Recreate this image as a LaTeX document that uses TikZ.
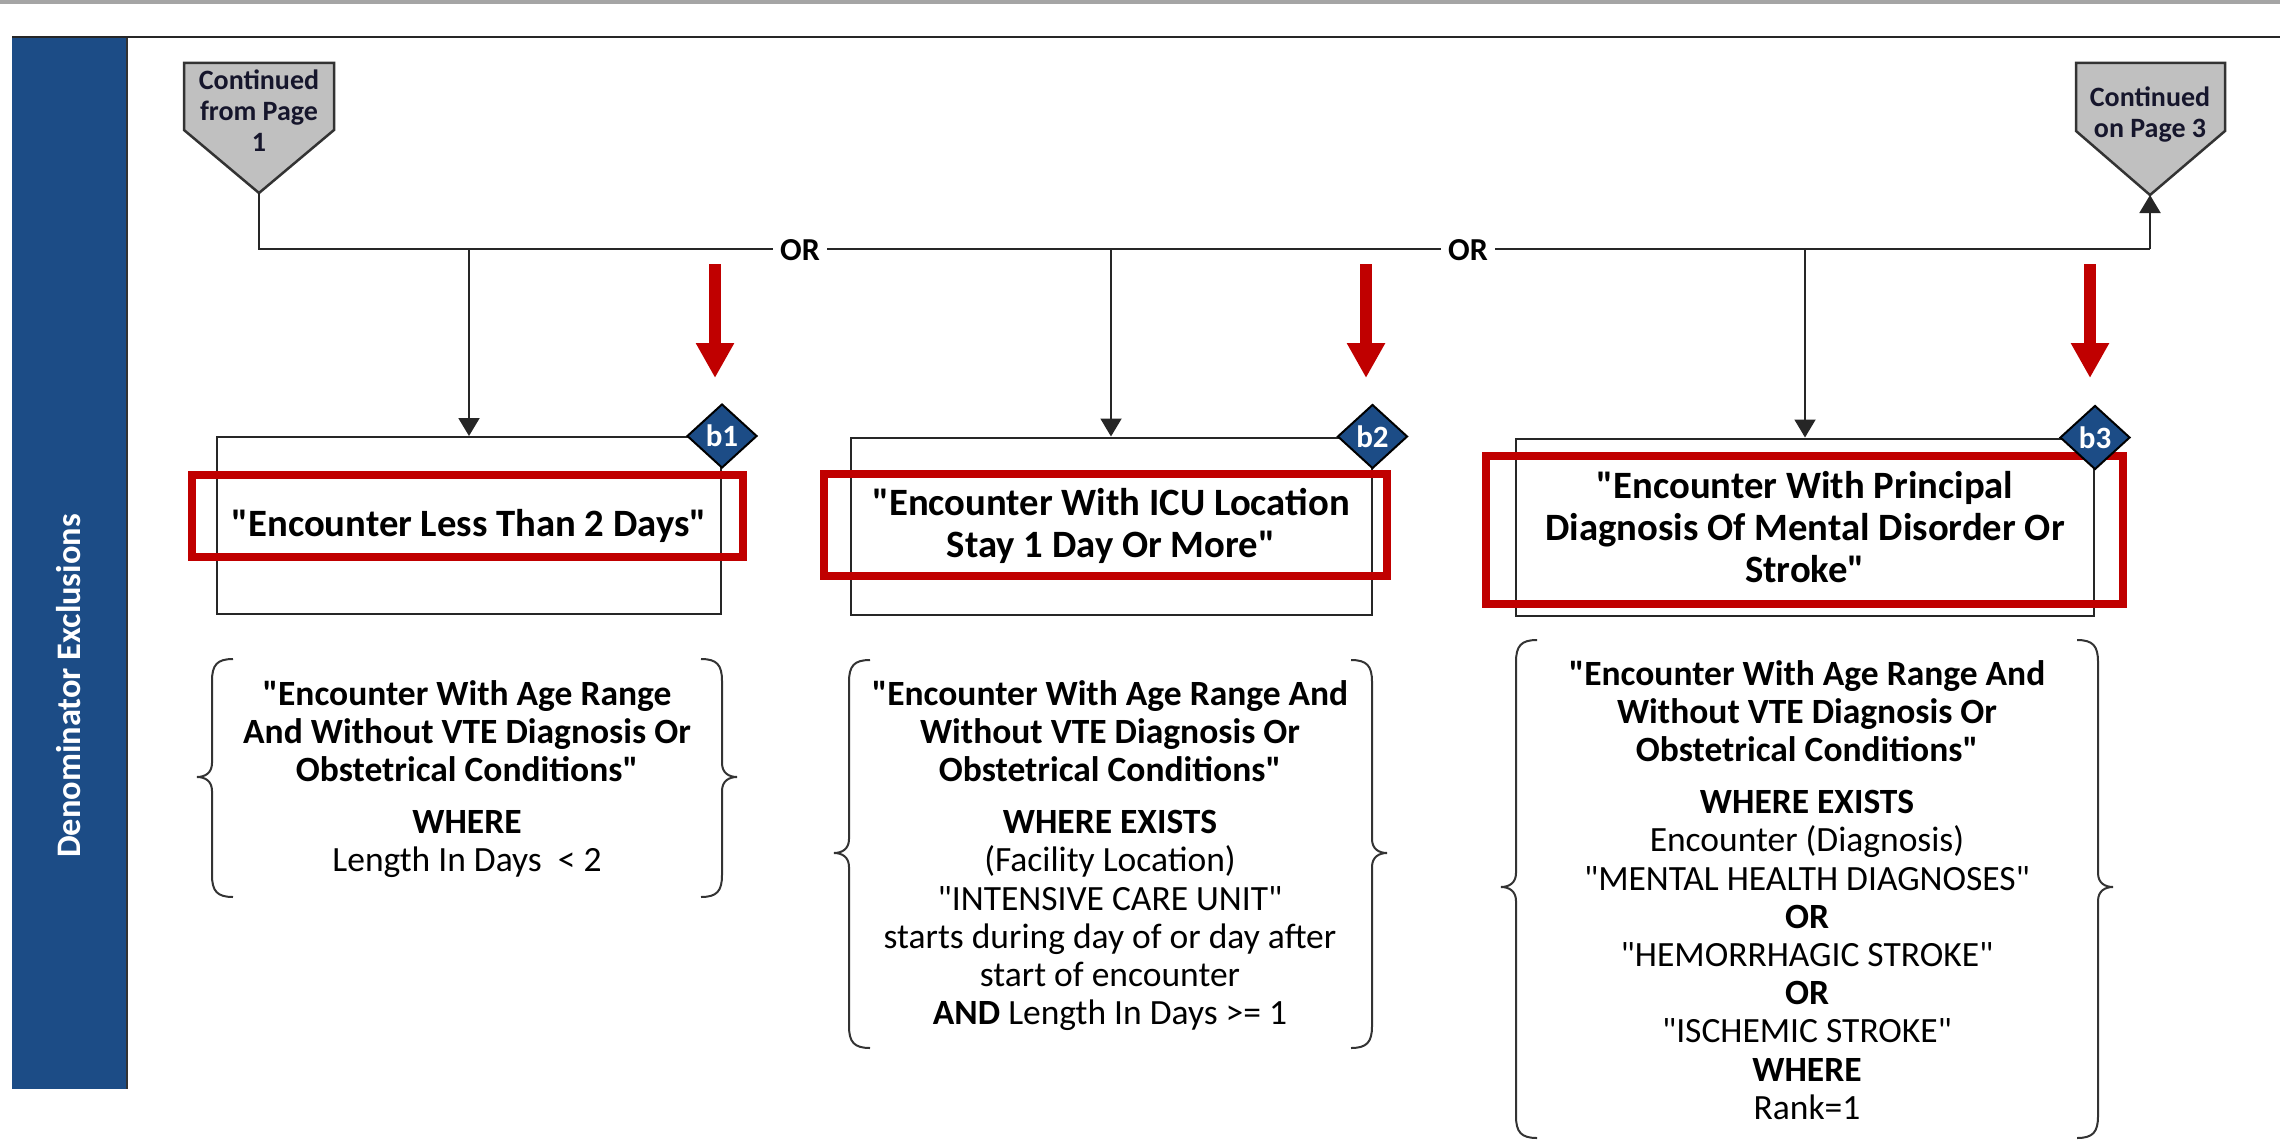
\documentclass[tikz,border=0pt]{standalone}
\usepackage{fontspec}
\setmainfont{Carlito}[Ligatures=TeXOff]
\usetikzlibrary{arrows.meta,shapes.geometric}

\definecolor{bandblue}{RGB}{28,76,134}
\definecolor{hlred}{RGB}{192,0,0}
\definecolor{offpage}{RGB}{192,192,192}
\definecolor{labelink}{RGB}{22,22,44}
\definecolor{rulegray}{RGB}{165,165,165}

% curly brackets: #1 tip x, #2 top y, #3 middle y, #4 bottom y
\newcommand{\OpenCurl}[4]{%
  \draw[curl] ({#1+36},#2) .. controls ({#1+20},#2) and ({#1+15},{#2+6}) .. ({#1+15},{#2+22})
    -- ({#1+15},{#3-14}) .. controls ({#1+15},{#3-4}) and ({#1+8},#3) .. (#1,#3)
    .. controls ({#1+8},#3) and ({#1+15},{#3+4}) .. ({#1+15},{#3+14})
    -- ({#1+15},{#4-22}) .. controls ({#1+15},{#4-6}) and ({#1+20},#4) .. ({#1+36},#4);}
\newcommand{\CloseCurl}[4]{%
  \draw[curl] ({#1-36},#2) .. controls ({#1-20},#2) and ({#1-15},{#2+6}) .. ({#1-15},{#2+22})
    -- ({#1-15},{#3-14}) .. controls ({#1-15},{#3-4}) and ({#1-8},#3) .. (#1,#3)
    .. controls ({#1-8},#3) and ({#1-15},{#3+4}) .. ({#1-15},{#3+14})
    -- ({#1-15},{#4-22}) .. controls ({#1-15},{#4-6}) and ({#1-20},#4) .. ({#1-36},#4);}

\begin{document}
\begin{tikzpicture}[x=1pt,y=-1pt,
  conn/.style={draw=black!85,line width=2pt},
  arr/.style={conn,-{Triangle[length=18pt,width=21pt]}},
  redarrow/.style={draw=hlred,line width=12pt,-{Triangle[length=35pt,width=36pt]}},
  offpagebox/.style={draw=black!80,line width=2.5pt,fill=offpage,line join=miter},
  offtext/.style={align=center,inner sep=0pt,text=labelink,
    font=\fontsize{28}{31}\selectfont\bfseries},
  critbox/.style={draw=black!85,line width=2pt,fill=white,minimum width=504pt,
    minimum height=177pt,inner sep=0pt,align=center,
    font=\fontsize{38.7}{42}\selectfont\bfseries},
  highlight/.style={draw=hlred,line width=8pt,inner sep=0pt},
  tag/.style={shape=diamond,draw=black,line width=2pt,fill=bandblue,inner sep=0pt,
    minimum width=70pt,minimum height=64pt,text=white,
    font=\fontsize{31}{31}\selectfont\bfseries},
  ortext/.style={fill=white,inner xsep=7pt,inner ysep=2pt,
    font=\fontsize{32}{32}\selectfont\bfseries},
  curl/.style={draw=black!80,line width=2pt},
  detail/.style={align=center,inner sep=0pt,anchor=north,
    font=\fontsize{35.5}{38.2}\selectfont},
]
\useasboundingbox (0,0) rectangle (2280,1145);

% page rules
\draw[rulegray,line width=4pt] (0,2) -- (2280,2);
\draw[black!85,line width=2.5pt] (12,37) -- (2280,37);

% swimlane band
\fill[bandblue] (12,38) rectangle (127,1089);
\draw[black!80,line width=2pt] (127,38) -- (127,1089);
\node[rotate=90,text=white,font=\fontsize{34.4}{34.4}\selectfont\bfseries] (lane)
  at (69,686) {Denominator Exclusions};

% off-page connectors
\draw[offpagebox] (184,63) -- (334,63) -- (334,130) -- (259,193) -- (184,130) -- cycle;
\coordinate (fromtip) at (259,193);
\node[offtext,anchor=north] (fromtxt) at (259,70) {Continued\\from Page\\1};

\draw[offpagebox] (2076,63) -- (2225,63) -- (2225,131) -- (2150,195) -- (2076,131) -- cycle;
\coordinate (totip) at (2150,195);
\node[offtext,anchor=north] (totxt) at (2150,87) {Continued\\on Page 3};

% criteria boxes
\node[critbox] (c1) at (469,525.5) {\raisebox{-3pt}{"Encounter Less Than 2 Days"}};
\node[critbox,minimum width=521pt] (c2) at (1111,526) {\raisebox{-3pt}{"Encounter With ICU Location}\\\raisebox{-3pt}{Stay 1 Day Or More"}};
\node[critbox,minimum width=578pt] (c3) at (1805,527) {"Encounter With Principal\\Diagnosis Of Mental Disorder Or\\Stroke"};

% red highlights
\node[highlight,minimum width=551pt,minimum height=82pt] (h1) at (467.5,516) {};
\node[highlight,minimum width=563pt,minimum height=102pt] (h2) at (1105,525) {};
\node[highlight,minimum width=637pt,minimum height=148pt] (h3) at (1804.5,530) {};

% step tags
\node[tag] (b1) at (c1.north east) {b1};
\node[tag] (b2) at (c2.north east) {b2};
\node[tag] (b3) at (c3.north east) {b3};

% OR bus
\coordinate (busL) at (259,249);
\coordinate (busR) at (2150,249);
\draw[conn] (fromtip) -- (busL) -- (busR);
\draw[arr] (busR) -- (totip);
\node[ortext] (or1) at (800,250) {OR};
\node[ortext] (or2) at (1468,250) {OR};
\draw[arr] (c1.north |- busL) -- (c1.north);
\draw[arr] (c2.north |- busL) -- (c2.north);
\draw[arr] (c3.north |- busL) -- (c3.north);

% red pointers
\coordinate (p1s) at (715,264);  \coordinate (p1e) at (715,378);
\coordinate (p2s) at (1366,264); \coordinate (p2e) at (1366,378);
\coordinate (p3s) at (2090,264); \coordinate (p3e) at (2090,378);
\draw[redarrow] (p1s) -- (p1e);
\draw[redarrow] (p2s) -- (p2e);
\draw[redarrow] (p3s) -- (p3e);

% definitions in curly brackets
\OpenCurl{197}{659}{777}{897}
\CloseCurl{737}{659}{777}{897}
\node[detail] (d1) at (467,680) {\textbf{"Encounter With Age Range}\\\textbf{And Without VTE Diagnosis Or}\\\textbf{Obstetrical Conditions"}\\[14pt]
  \textbf{WHERE}\\Length In Days\ \ {<} 2};

\OpenCurl{834}{660}{853}{1048}
\CloseCurl{1387}{660}{853}{1048}
\node[detail] (d2) at (1110,680) {\textbf{"Encounter With Age Range And}\\\textbf{Without VTE Diagnosis Or}\\\textbf{Obstetrical Conditions"}\\[14pt]
  \textbf{WHERE EXISTS}\\(Facility Location)\\"INTENSIVE CARE UNIT"\\starts during day of or day after\\start of encounter\\\textbf{AND} Length In Days {>}= 1};

\OpenCurl{1501}{640}{887}{1138}
\CloseCurl{2113}{640}{887}{1138}
\node[detail] (d3) at (1807,660) {\textbf{"Encounter With Age Range And}\\\textbf{Without VTE Diagnosis Or}\\\textbf{Obstetrical Conditions"}\\[14pt]
  \textbf{WHERE EXISTS}\\Encounter (Diagnosis)\\"MENTAL HEALTH DIAGNOSES"\\\textbf{OR}\\"HEMORRHAGIC STROKE"\\\textbf{OR}\\"ISCHEMIC STROKE"\\\textbf{WHERE}\\Rank=1};

\end{tikzpicture}
\end{document}
